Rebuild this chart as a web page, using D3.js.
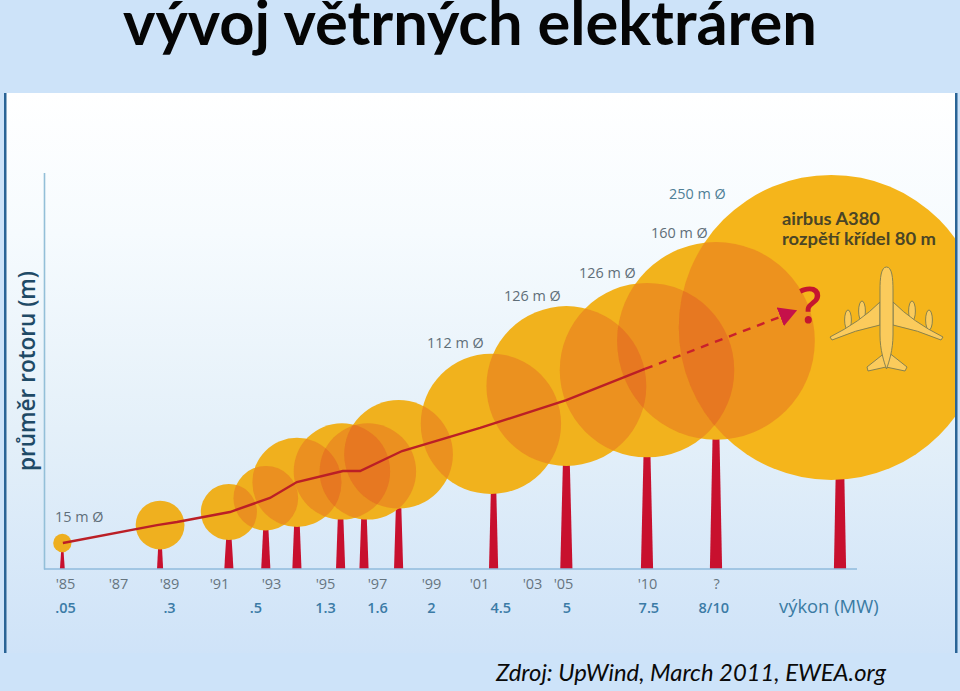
<!DOCTYPE html>
<html>
<head>
<meta charset="utf-8">
<script src="https://cdn.jsdelivr.net/npm/d3@7"></script>
<style>
  body { margin: 0; background: #cde3f9; }
  svg { display: block; }
</style>
</head>
<body>
<script>
// axis
const yearTicks = [1985, 1987, 1989, 1991, 1993, 1995, 1997, 1999, 2001, 2003, 2005, 2010, 2015];
const yearLabels = ["'85", "'87", "'89", "'91", "'93", "'95", "'97", "'99", "'01", "'03", "'05", "'10", "?"];
const powerYears = [1985, 1989, 1992.4, 1995, 1997, 1999, 2001.8, 2005.2, 2010.1, 2014.8];
const powerLabels = [".05", ".3", ".5", "1.3", "1.6", "2", "4.5", "5", "7.5", "8/10"];

// turbines
const towerYear = [1984.9, 1988.65, 1991.38, 1992.8, 1993.96, 1995.6, 1996.5, 1997.8, 2001.55, 2005.2, 2010, 2015, 2020];
const rotorYear = [1984.9, 1988.65, 1991.38, 1992.8, 1993.96, 1995.65, 1996.65, 1997.8, 2001.45, 2005.2, 2010, 2015, 2019.65];
const hubHeight = [21.3, 36, 46.7, 58, 71, 80, 80, 94, 119, 150, 163, 187, 198];
const diameter = [15, 40, 46, 53, 73, 79, 79, 89, 115, 131, 143, 162, 250];
const towerFoot = [4, 5, 7.5, 7.5, 7.5, 7.5, 7.5, 7.5, 7.5, 10, 10, 10, 10];

// growth line
const lineYear = [1984.92, 1988.53, 1989.32, 1991.42, 1992.96, 1993.96, 1995.69, 1996.35, 1997.93, 2001.04, 2005.2, 2009.88];
const lineHeight = [21.3, 36, 38.5, 46.7, 58.2, 71.3, 80.3, 80.3, 96.7, 115.6, 138.5, 164];
const forecastYear = [2009.88, 2018.27];
const forecastHeight = [164, 212];

// callouts above the rotors
const calloutText = ["15 m Ø", "112 m Ø", "126 m Ø", "126 m Ø", "160 m Ø", "250 m Ø"];
const calloutX = [55, 427, 504, 579, 651, 669];
const calloutY = [522, 348, 301, 278, 238, 199];

const width = 960, height = 691;
const baseY = 569;

var svg = d3.select("body").append("svg")
  .attr("width", width)
  .attr("height", height);

var defs = svg.append("defs");

var grad = defs.append("linearGradient")
  .attr("id", "panelFill")
  .attr("x1", 0).attr("y1", 0).attr("x2", 0).attr("y2", 1);
grad.append("stop").attr("offset", "0%").attr("stop-color", "#ffffff");
grad.append("stop").attr("offset", "25%").attr("stop-color", "#f6fbfe");
grad.append("stop").attr("offset", "60%").attr("stop-color", "#e4f0f9");
grad.append("stop").attr("offset", "100%").attr("stop-color", "#cfe3f8");

defs.append("clipPath").attr("id", "panelClip")
  .append("rect")
  .attr("x", 6).attr("y", 93).attr("width", 949).attr("height", 560);

// arrow head of the dashed part
defs.append("marker")
  .attr("id", "arrowHead")
  .attr("viewBox", "0 -10 18 20")
  .attr("refX", 18).attr("refY", 0)
  .attr("markerUnits", "userSpaceOnUse")
  .attr("markerWidth", 18).attr("markerHeight", 20)
  .attr("orient", "auto")
  .append("path")
  .attr("d", "M0,-10L18,0L0,10Z")
  .attr("fill", "#c5114a");

// scales, the year axis is not even on the original
var x = d3.scaleLinear()
  .domain([1985, 1987, 1989, 1991, 1993, 1995, 1997, 1999, 2001, 2003, 2005, 2010, 2015, 2020])
  .range([65, 118, 169, 219, 271, 325, 377, 431, 479, 532, 563, 647, 716, 840]);

var y = d3.scaleLinear().domain([0, 325]).range([baseY, baseY - 325 * 1.22]);

var size = d3.scaleLinear().domain([0, 100]).range([0, 122]);

// background panel
svg.append("rect")
  .attr("x", 6).attr("y", 93).attr("width", 949).attr("height", 560)
  .attr("fill", "url(#panelFill)");
svg.append("rect")
  .attr("x", 4).attr("y", 93).attr("width", 2.5).attr("height", 560)
  .attr("fill", "#2a6496");
svg.append("rect")
  .attr("x", 955).attr("y", 93).attr("width", 2.5).attr("height", 560)
  .attr("fill", "#2a6496");

// title
svg.append("text")
  .attr("x", 123).attr("y", 45)
  .attr("textLength", 694)
  .attr("lengthAdjust", "spacingAndGlyphs")
  .attr("font-family", "Lato")
  .attr("font-weight", 700)
  .attr("font-size", 62)
  .attr("fill", "#050505")
  .text("vývoj větrných elektráren");

svg.append("text")
  .attr("x", 496).attr("y", 681)
  .attr("textLength", 390)
  .attr("lengthAdjust", "spacingAndGlyphs")
  .attr("font-family", "Lato")
  .attr("font-style", "italic")
  .attr("font-size", 24)
  .attr("fill", "#0a0a0a")
  .text("Zdroj: UpWind, March 2011, EWEA.org");

// y axis, only the line
var yAxis = svg.append("g")
  .attr("transform", "translate(44,0)")
  .call(d3.axisLeft(y).tickValues([]).tickSize(0));
yAxis.select(".domain").attr("stroke", "#93bfd8").attr("stroke-width", 1.6);

svg.append("text")
  .attr("transform", "translate(35,371) rotate(-90)")
  .attr("text-anchor", "middle")
  .attr("textLength", 200)
  .attr("lengthAdjust", "spacingAndGlyphs")
  .attr("font-family", "'Open Sans'")
  .attr("font-weight", 600)
  .attr("font-size", 24)
  .attr("fill", "#1f4a66")
  .text("průměr rotoru (m)");

// towers
var plot = svg.append("g").attr("clip-path", "url(#panelClip)");

plot.selectAll("path.tower")
  .data(towerYear)
  .enter()
  .append("path")
  .attr("class", "tower")
  .attr("fill", "#c8102e")
  .attr("d", (d, i) => {
    var foot = size(towerFoot[i]) / 2;
    var top = foot * 0.25;
    var p = d3.path();
    p.moveTo(x(d) - foot, baseY);
    p.lineTo(x(d) - top, y(hubHeight[i]));
    p.lineTo(x(d) + top, y(hubHeight[i]));
    p.lineTo(x(d) + foot, baseY);
    p.closePath();
    return p.toString();
  });

// rotors
var rotorColor = d3.scaleLinear().domain([15, 250]).range(["#eeaf1f", "#f5b51b"]);

plot.selectAll("circle.rotor")
  .data(diameter)
  .enter()
  .append("circle")
  .attr("class", "rotor")
  .attr("cx", (d, i) => x(rotorYear[i]))
  .attr("cy", (d, i) => y(hubHeight[i]))
  .attr("r", d => size(d) / 2)
  .attr("fill", d => rotorColor(d));

// darker where two rotors overlap
diameter.forEach(function(d, i) {
  defs.append("clipPath").attr("id", "rotorClip" + i)
    .append("circle")
    .attr("cx", x(rotorYear[i]))
    .attr("cy", y(hubHeight[i]))
    .attr("r", size(d) / 2);
});

diameter.forEach(function(d, i) {
  for (var j = i + 1; j < diameter.length; j++) {
    plot.append("g")
      .attr("clip-path", "url(#rotorClip" + j + ")")
      .append("circle")
      .attr("cx", x(rotorYear[i]))
      .attr("cy", y(hubHeight[i]))
      .attr("r", size(d) / 2)
      .attr("fill", "#e56f22")
      .attr("fill-opacity", 0.5);
  }
});

// growth line
var line = d3.line().x(d => x(d[0])).y(d => y(d[1]));

svg.append("path")
  .attr("d", line(d3.zip(lineYear, lineHeight)))
  .attr("fill", "none")
  .attr("stroke", "#bb1f26")
  .attr("stroke-width", 2.4);

svg.append("path")
  .attr("d", line(d3.zip(forecastYear, forecastHeight)))
  .attr("fill", "none")
  .attr("stroke", "#c9202c")
  .attr("stroke-width", 2.4)
  .attr("stroke-dasharray", "8,7")
  .attr("marker-end", "url(#arrowHead)");

svg.append("text")
  .attr("x", 810).attr("y", 323)
  .attr("text-anchor", "middle")
  .attr("font-family", "'Open Sans'")
  .attr("font-weight", 600)
  .attr("font-size", 50)
  .attr("fill", "#c5162f")
  .text("?");

// airplane
var plane = svg.append("g")
  .attr("fill", "#fbcb5c")
  .attr("stroke", "#7c7a50")
  .attr("stroke-width", 0.9);

[848, 862, 912, 929].forEach(function(cx, i) {
  plane.append("ellipse")
    .attr("cx", cx)
    .attr("cy", i == 1 || i == 2 ? 311 : 320)
    .attr("rx", 3.4).attr("ry", 10);
});
plane.append("path").attr("d", "M886,352L867,367L868,371L886,367L905,371L907,367L888,352Z");
plane.append("path").attr("d", "M880,302Q860,322 830,337L832,340Q855,330 880,325Z");
plane.append("path").attr("d", "M893,302Q913,322 943,337L941,340Q918,330 893,325Z");
plane.append("path").attr("d", "M886.5,267C881,267 880,278 880,290L880,335C880,350 884,362 886.5,369C889,362 893,350 893,335L893,290C893,278 892,267 886.5,267Z");

// year and power ticks
var yearAxis = svg.append("g")
  .attr("transform", "translate(0," + baseY + ")")
  .call(d3.axisBottom(x)
    .tickValues(yearTicks)
    .tickFormat((d, i) => yearLabels[i])
    .tickSize(0)
    .tickPadding(10));
yearAxis.select(".domain").remove();
yearAxis.selectAll("text")
  .attr("font-family", "'Open Sans'")
  .attr("font-size", 14.5)
  .attr("fill", "#66757f");

var powerAxis = svg.append("g")
  .attr("transform", "translate(0," + (baseY + 25) + ")")
  .call(d3.axisBottom(x)
    .tickValues(powerYears)
    .tickFormat((d, i) => powerLabels[i])
    .tickSize(0)
    .tickPadding(9));
powerAxis.select(".domain").remove();
powerAxis.selectAll("text")
  .attr("font-family", "'Open Sans'")
  .attr("font-weight", 600)
  .attr("font-size", 14.5)
  .attr("fill", "#3b7ba6");

svg.append("line")
  .attr("x1", 44).attr("x2", 857)
  .attr("y1", baseY).attr("y2", baseY)
  .attr("stroke", "#8fbbdc")
  .attr("stroke-width", 1.6);

svg.append("text")
  .attr("x", 779).attr("y", 613)
  .attr("font-family", "'Open Sans'")
  .attr("font-size", 18.4)
  .attr("fill", "#3a7ba3")
  .text("výkon (MW)");

svg.selectAll("text.callout")
  .data(calloutText)
  .enter()
  .append("text")
  .attr("class", "callout")
  .attr("x", (d, i) => calloutX[i])
  .attr("y", (d, i) => calloutY[i])
  .attr("font-family", "'Open Sans'")
  .attr("font-size", 14.4)
  .attr("fill", (d, i) => i == 5 ? "#4f7f96" : "#5f6e78")
  .text(d => d);

svg.append("text")
  .attr("x", 782).attr("y", 225)
  .attr("textLength", 98)
  .attr("lengthAdjust", "spacingAndGlyphs")
  .attr("font-family", "Lato")
  .attr("font-weight", 700)
  .attr("font-size", 16.5)
  .attr("fill", "#4a4526")
  .text("airbus A380");

svg.append("text")
  .attr("x", 782).attr("y", 245)
  .attr("textLength", 154)
  .attr("lengthAdjust", "spacingAndGlyphs")
  .attr("font-family", "Lato")
  .attr("font-weight", 700)
  .attr("font-size", 16.5)
  .attr("fill", "#4a4526")
  .text("rozpětí křídel 80 m");
</script>
</body>
</html>
